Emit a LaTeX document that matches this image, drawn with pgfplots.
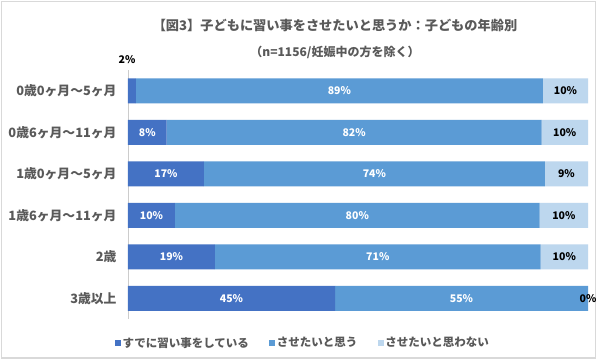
\documentclass[border=0pt]{standalone}
\usepackage{fontspec}
\setmainfont{Noto Sans CJK JP}
\usepackage{pgfplots}
\usepackage{pgfplotstable}
\pgfplotsset{compat=1.18}
\definecolor{cA}{HTML}{4472C4}
\definecolor{cB}{HTML}{5B9BD5}
\definecolor{cC}{HTML}{BDD7EE}
\definecolor{txt}{HTML}{595959}
% segment widths (percent)
\pgfplotstableread[col sep=comma]{
row,a,b,c
0,1.7,88.5,9.8
1,8.4,81.5,10.1
2,16.5,74.1,9.4
3,10.2,79.3,10.5
4,18.9,70.8,10.3
5,45.0,55.0,0
}\data
% label positions (segment centres) and label texts
\pgfplotstableread[col sep=comma]{
row,xa,xb,xc,la,lb,lc
0,0.85,45.95,95.1,{},89\%,10\%
1,4.2,49.15,94.95,8\%,82\%,10\%
2,8.25,53.55,95.3,17\%,74\%,9\%
3,5.1,49.85,94.75,10\%,80\%,10\%
4,9.45,54.3,94.85,19\%,71\%,10\%
5,22.5,72.5,100,45\%,55\%,0\%
}\labels
\pgfplotsset{common/.style={at={(128pt,43pt)}, anchor=south west, scale only axis,
  width=460pt, height=249pt, clip=false,
  xmin=0, xmax=100, ymin=-0.5, ymax=5.5, y dir=reverse}}
\begin{document}
\begin{tikzpicture}[x=1pt,y=1pt]
\useasboundingbox (0,0) rectangle (600,362);
\fill[white] (0,0) rectangle (600,362);
\draw[color=black!15, line width=1.5pt] (1.5,4) rectangle (595.5,360.5);
\node[font=\bfseries\fontsize{13.2}{15}\selectfont, text=txt] at (335,337) {【図3】子どもに習い事をさせたいと思うか：子どもの年齢別};
\node[font=\bfseries\fontsize{12}{14}\selectfont, text=txt] at (335,310) {（n=1156/妊娠中の方を除く）};
\begin{axis}[common,
  xbar stacked, bar width=25pt,
  axis x line=none, axis y line*=left,
  y axis line style={-, draw=black!20},
  ytick={0,...,5}, major tick length=0pt,
  yticklabels={0歳0ヶ月～5ヶ月,0歳6ヶ月～11ヶ月,1歳0ヶ月～5ヶ月,1歳6ヶ月～11ヶ月,2歳,3歳以上},
  yticklabel style={font=\bfseries\fontsize{12.8}{15}\selectfont, text=txt, xshift=-8pt},
  legend style={at={(0.38,-0.096)}, anchor=center, legend columns=3, draw=none,
    font=\bfseries\fontsize{11.5}{13}\selectfont, text=txt,
    nodes={inner xsep=1.5pt},
    /tikz/every even column/.append style={column sep=19pt}},
  legend image code/.code={\fill[#1] (0pt,-3pt) rectangle (6pt,3pt);},
]
\addplot[fill=cA, draw=none] table[x=a, y=row] {\data};
\addplot[fill=cB, draw=none] table[x=b, y=row] {\data};
\addplot[fill=cC, draw=none] table[x=c, y=row] {\data};
\legend{すでに習い事をしている,させたいと思う,させたいと思わない}
\end{axis}
\begin{axis}[common, hide axis,
  nodes near coords style={anchor=center, font=\bfseries\fontsize{10.5}{12}\selectfont}]
\addplot[draw=none, mark=none, nodes near coords, point meta=explicit symbolic,
  nodes near coords style={text=white}]
  table[x=xa, y=row, meta=la] {\labels};
\addplot[draw=none, mark=none, nodes near coords, point meta=explicit symbolic,
  nodes near coords style={text=white}]
  table[x=xb, y=row, meta=lb] {\labels};
\addplot[draw=none, mark=none, nodes near coords, point meta=explicit symbolic,
  nodes near coords style={text=black}]
  table[x=xc, y=row, meta=lc] {\labels};
\node[font=\bfseries\fontsize{10.5}{12}\selectfont, text=black] at (axis cs:-0.2,-0.75) {2\%};
\end{axis}
\end{tikzpicture}
\end{document}
